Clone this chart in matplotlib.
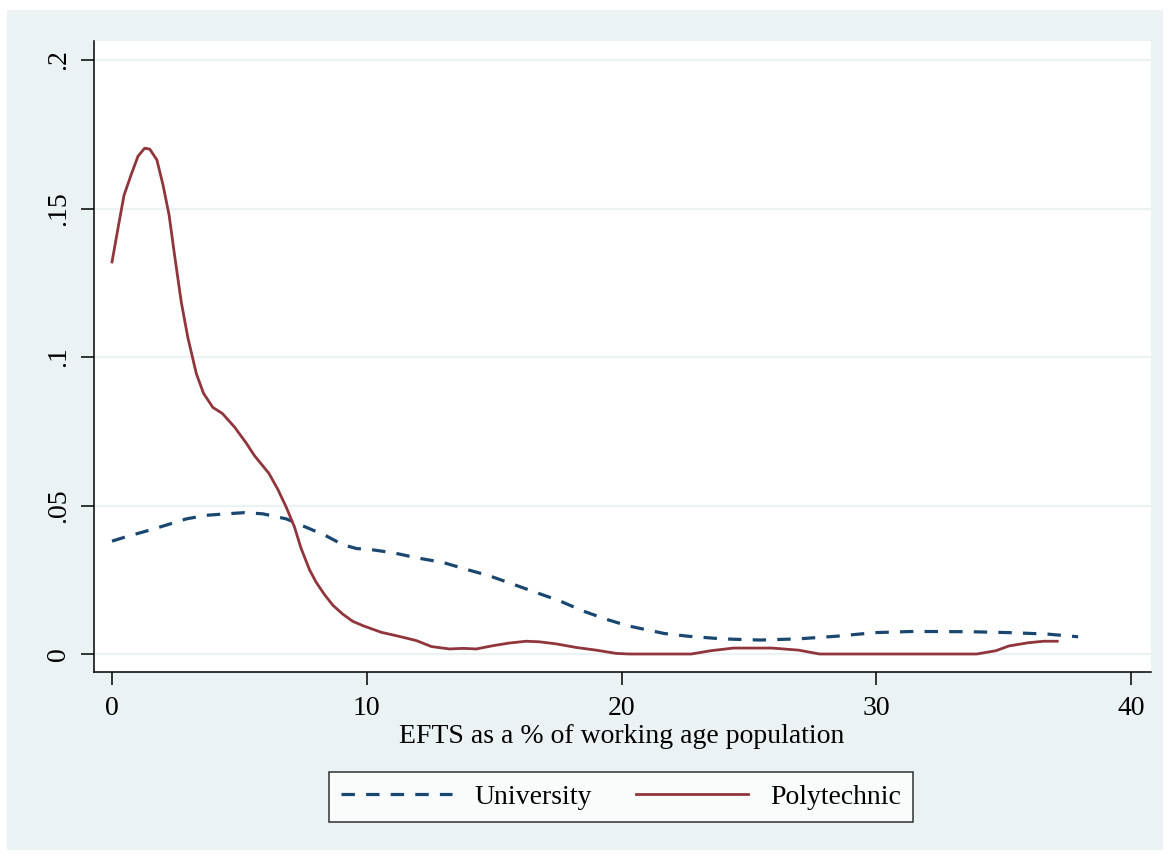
import matplotlib
matplotlib.use("Agg")
import matplotlib.pyplot as plt
from matplotlib.patches import Rectangle

# Kernel density estimates of EFTS share, by institution type
uni_x = [0.0, 0.56, 1.35, 2.13, 2.92, 3.70, 4.48, 5.20, 5.92, 6.84, 7.75, 8.40,
         9.06, 9.60, 10.12, 11.03, 11.95, 13.00, 13.91, 14.82, 15.74, 16.65,
         17.57, 18.48, 19.40, 20.24, 21.68, 22.59, 23.94, 25.44, 26.95, 28.45,
         29.95, 31.46, 33.71, 35.22, 36.72, 37.92]
uni_y = [0.0380, 0.0395, 0.0414, 0.0434, 0.0455, 0.0467, 0.0472, 0.0476, 0.0472,
         0.0455, 0.0422, 0.0398, 0.0368, 0.0355, 0.0352, 0.0341, 0.0324, 0.0308,
         0.0285, 0.0263, 0.0235, 0.0207, 0.0179, 0.0145, 0.0117, 0.0095, 0.0069,
         0.0060, 0.0051, 0.0047, 0.0051, 0.0060, 0.0072, 0.0076, 0.0075, 0.0072,
         0.0067, 0.0058]

poly_x = [0.0, 0.24, 0.47, 0.76, 1.02, 1.28, 1.48, 1.76, 2.00, 2.24, 2.46, 2.72,
          2.98, 3.31, 3.59, 3.96, 4.33, 4.81, 5.27, 5.59, 6.16, 6.51, 6.84, 7.16,
          7.42, 7.75, 8.01, 8.34, 8.67, 9.06, 9.45, 9.86, 10.57, 11.29, 11.95,
          12.54, 13.25, 13.78, 14.30, 14.95, 15.60, 16.26, 16.78, 17.44, 18.22,
          19.00, 19.79, 20.30, 22.74, 23.50, 24.39, 25.90, 26.95, 27.77, 33.94,
          34.69, 35.20, 35.97, 36.57, 37.10]
poly_y = [0.1320, 0.1436, 0.1544, 0.1616, 0.1676, 0.1703, 0.1700, 0.1664, 0.1580,
          0.1478, 0.1340, 0.1184, 0.1064, 0.0944, 0.0878, 0.0830, 0.0810, 0.0764,
          0.0710, 0.0668, 0.0608, 0.0554, 0.0494, 0.0428, 0.0356, 0.0284, 0.0242,
          0.0200, 0.0164, 0.0134, 0.0110, 0.0095, 0.0073, 0.0059, 0.0045, 0.0025,
          0.0017, 0.0019, 0.0017, 0.0028, 0.0037, 0.0043, 0.0041, 0.0034, 0.0022,
          0.0013, 0.0002, 0.0, 0.0, 0.0011, 0.0020, 0.0020, 0.0013, 0.0, 0.0,
          0.0011, 0.0027, 0.0038, 0.0043, 0.0043]

x_ticks = [0, 10, 20, 30, 40]
x_ticklabels = ["0", "10", "20", "30", "40"]
y_ticks = [0, 0.05, 0.1, 0.15, 0.2]
y_ticklabels = ["0", ".05", ".1", ".15", ".2"]

BG = "#eaf2f3"
NAVY = "#1a476f"
MAROON = "#90353b"
FS = 20

plt.rcParams["font.family"] = ["Liberation Serif", "DejaVu Serif"]

W, H = 1169, 858
fig = plt.figure(figsize=(W / 100, H / 100), dpi=100, facecolor="white")
fig.patches.append(Rectangle((7 / W, 8 / H), (1163 - 7) / W, (848 - 8) / H,
                             transform=fig.transFigure, facecolor=BG,
                             edgecolor="none", zorder=-10))

ax_h = 817 - 186
ax = fig.add_axes([94 / W, 186 / H, (1151 - 94) / W, ax_h / H])
ax.set_facecolor("white")

ax.plot(uni_x, uni_y, color=NAVY, lw=2.3, linestyle=(0, (4.2, 3.5)),
        label="University", dash_capstyle="butt")
ax.plot(poly_x, poly_y, color=MAROON, lw=2.0, label="Polytechnic")

ax.set_xlim(-0.707, 40.78)
ax.set_ylim(-0.00606, 0.2064)

ax.set_xticks(x_ticks)
ax.set_xticklabels(x_ticklabels)
ax.set_yticks(y_ticks)
ax.set_yticklabels(y_ticklabels, rotation=90, va="center")

for yv in y_ticks:
    ax.axhline(yv, color=BG, lw=1.6, zorder=0)

for side in ("top", "right"):
    ax.spines[side].set_visible(False)
for side in ("left", "bottom"):
    ax.spines[side].set_linewidth(1.1)
    ax.spines[side].set_color("black")

ax.tick_params(axis="both", direction="out", length=9.5, width=1.1,
               labelsize=FS, color="black")
ax.tick_params(axis="x", pad=8)
ax.tick_params(axis="y", pad=7)

ax.set_xlabel("EFTS as a % of working age population", fontsize=FS)
ax.xaxis.set_label_coords(0.4995, -52 / ax_h)

leg = fig.legend(loc="center", bbox_to_anchor=(621 / W, 1 - 797 / H), ncol=2,
                 fontsize=FS, frameon=True, fancybox=False, handlelength=4.0,
                 handletextpad=0.8, columnspacing=1.6, borderpad=0.45)
leg.get_frame().set_edgecolor("black")
leg.get_frame().set_linewidth(1.1)
leg.get_frame().set_facecolor("white")

fig.savefig("out.png", dpi=100, facecolor="white")
